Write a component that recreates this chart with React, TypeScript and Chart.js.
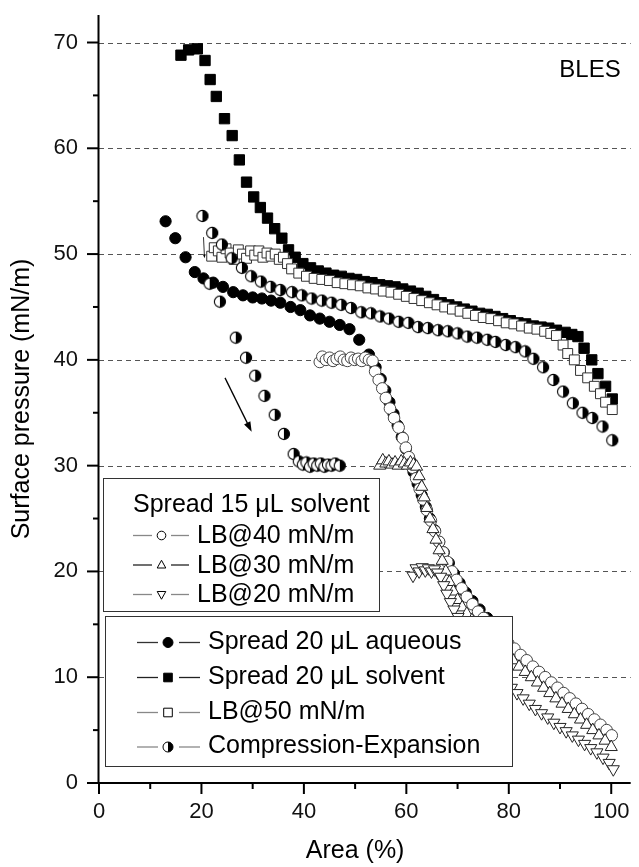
import React, { useEffect, useRef } from "react";
import { Chart, registerables } from "chart.js";

Chart.register(...registerables);

const FONT = "'Liberation Sans', Arial, Helvetica, sans-serif";

// Axis ticks
const xTicks = [0, 20, 40, 60, 80, 100];
const xMinorTicks = [10, 30, 50, 70, 90];
const yTicks = [0, 10, 20, 30, 40, 50, 60, 70];
const yMinorTicks = [5, 15, 25, 35, 45, 55, 65];
const gridValues = [10, 20, 30, 40, 50, 60, 70];

// Spread 20 uL aqueous (filled circles)
const aqueousX = [13.0, 14.9, 16.9, 18.7, 20.4, 22.3, 24.2, 26.2, 28.1, 30.0, 31.8, 33.6, 35.4, 37.4, 39.3, 41.2, 43.1, 45.0, 47.0, 48.9, 50.8, 52.7, 54.0, 55.0, 55.9, 56.7, 57.5, 58.3, 59.1, 59.9, 60.7, 61.4, 62.2, 63.0, 63.8, 64.6, 65.5, 66.4, 67.3, 68.3, 69.3, 70.4, 71.6, 72.9, 74.3, 75.8, 77.3];
const aqueousY = [53.1, 51.5, 49.7, 48.3, 47.7, 47.3, 46.9, 46.4, 46.1, 45.9, 45.8, 45.6, 45.4, 45.0, 44.7, 44.2, 43.9, 43.6, 43.3, 42.9, 41.9, 40.5, 39.3, 38.2, 37.1, 36.0, 34.9, 33.8, 32.7, 31.6, 30.5, 29.4, 28.3, 27.2, 26.1, 25.0, 23.9, 22.8, 21.8, 20.8, 19.8, 18.9, 18.0, 17.2, 16.4, 15.6, 14.9];

// Spread 20 uL solvent (filled squares)
const solventX = [16.0, 17.5, 19.2, 20.7, 21.7, 22.9, 24.5, 26.0, 27.4, 28.8, 30.2, 31.5, 32.9, 34.3, 35.7, 37.0, 38.3, 39.8, 41.3, 42.8, 44.3, 45.8, 47.3, 48.8, 50.3, 51.8, 53.3, 54.8, 56.3, 57.8, 59.3, 60.8, 62.3, 63.8, 65.3, 66.8, 68.3, 69.8, 71.3, 72.8, 74.3, 75.8, 77.3, 78.8, 80.3, 81.8, 83.3, 84.8, 86.3, 87.8, 89.3, 91.0, 92.3, 93.5, 94.7, 96.2, 97.4, 98.9, 100.2];
const solventY = [68.8, 69.3, 69.4, 68.3, 66.5, 64.9, 62.8, 61.2, 58.9, 56.8, 55.4, 54.4, 53.4, 52.4, 51.5, 50.4, 49.7, 49.1, 48.7, 48.4, 48.2, 48.0, 47.9, 47.7, 47.6, 47.4, 47.3, 47.1, 47.0, 46.9, 46.7, 46.5, 46.3, 46.0, 45.7, 45.4, 45.2, 45.0, 44.8, 44.6, 44.4, 44.3, 44.1, 43.9, 43.7, 43.5, 43.4, 43.2, 43.1, 43.0, 42.8, 42.6, 42.4, 42.2, 41.1, 40.0, 38.7, 37.5, 36.3];

// LB@50 mN/m (open squares)
const lb50X = [22.0, 22.5, 23.3, 24.0, 24.8, 25.6, 26.4, 27.2, 28.0, 28.8, 29.6, 30.4, 31.2, 32.0, 32.8, 33.6, 34.4, 35.2, 36.0, 36.8, 37.6, 39.0, 40.5, 42.0, 43.5, 45.0, 46.5, 48.0, 49.5, 51.0, 52.5, 54.0, 55.5, 57.0, 58.5, 60.0, 61.5, 63.0, 64.5, 66.0, 67.5, 69.0, 70.5, 72.0, 73.5, 75.0, 76.5, 78.0, 79.5, 81.0, 82.5, 84.0, 85.5, 87.0, 88.2, 89.3, 90.6, 91.5, 92.8, 94.0, 95.4, 96.7, 97.9, 98.9, 100.2];
const lb50Y = [49.8, 50.6, 50.3, 49.7, 50.5, 50.1, 49.5, 50.4, 50.0, 49.6, 50.3, 49.9, 50.3, 49.7, 50.1, 49.8, 50.0, 49.5, 49.7, 49.1, 48.6, 48.2, 47.9, 47.7, 47.6, 47.5, 47.3, 47.2, 47.1, 47.0, 46.8, 46.7, 46.5, 46.4, 46.2, 46.0, 45.8, 45.6, 45.4, 45.2, 45.0, 44.8, 44.6, 44.4, 44.2, 44.0, 43.9, 43.7, 43.5, 43.4, 43.2, 43.0, 42.9, 42.7, 42.5, 42.3, 41.4, 40.6, 40.0, 39.0, 38.3, 37.5, 36.8, 36.0, 35.3];

// Compression-Expansion (half-filled circles)
const ceX = [20.2, 22.1, 24.0, 25.9, 27.9, 29.7, 31.6, 33.5, 35.4, 37.7, 39.6, 41.5, 43.5, 45.4, 47.3, 49.2, 51.2, 53.1, 54.9, 56.6, 58.5, 60.4, 62.3, 64.2, 66.2, 68.1, 70.0, 71.9, 73.8, 75.8, 77.4, 79.4, 81.3, 83.2, 84.8, 86.7, 88.7, 90.6, 92.5, 94.4, 96.3, 98.3, 100.2, 21.6, 23.6, 26.7, 28.7, 30.5, 32.3, 34.3, 36.1, 38.0, 39.0, 39.8, 40.5, 41.2, 41.9, 42.6, 43.3, 44.0, 44.7, 45.4, 46.1, 47.0];
const ceY = [53.6, 52.0, 50.9, 49.6, 48.7, 47.9, 47.4, 46.9, 46.6, 46.4, 46.1, 45.8, 45.6, 45.4, 45.2, 44.9, 44.5, 44.4, 44.1, 43.9, 43.6, 43.5, 43.1, 43.0, 42.8, 42.7, 42.5, 42.2, 42.1, 41.9, 41.7, 41.4, 41.2, 40.8, 40.1, 39.3, 38.1, 37.0, 35.9, 35.0, 34.5, 33.7, 32.4, 47.2, 45.5, 42.1, 40.2, 38.5, 36.6, 34.8, 33.0, 31.1, 30.4, 30.1, 30.3, 29.9, 30.2, 30.0, 30.2, 29.9, 30.1, 30.0, 30.2, 30.0];

// LB@40 mN/m (open circles)
const lb40X = [43.1, 43.6, 44.3, 45.0, 45.7, 46.4, 47.1, 47.8, 48.5, 49.2, 49.9, 50.6, 51.3, 52.0, 52.7, 53.4, 53.9, 54.6, 55.3, 56.0, 56.8, 57.6, 58.5, 59.3, 59.9, 60.5, 61.2, 61.9, 62.6, 63.3, 64.0, 64.8, 65.6, 66.4, 67.2, 68.0, 68.9, 69.8, 70.8, 71.8, 72.9, 74.0, 75.1, 76.3, 77.5, 78.7, 79.9, 81.1, 82.3, 83.5, 84.7, 85.9, 87.1, 88.3, 89.5, 90.7, 91.9, 93.1, 94.3, 95.5, 96.7, 97.9, 99.1, 100.1];
const lb40Y = [39.8, 40.3, 40.0, 40.2, 39.9, 40.1, 40.3, 40.0, 39.9, 40.2, 40.0, 40.1, 39.9, 40.2, 40.0, 39.9, 38.9, 38.1, 37.3, 36.4, 35.4, 34.5, 33.6, 32.6, 31.7, 30.8, 29.8, 28.8, 27.8, 26.8, 25.8, 24.8, 23.8, 22.8, 21.8, 20.9, 20.0, 19.2, 18.4, 17.6, 16.9, 16.2, 15.6, 15.0, 14.4, 13.8, 13.2, 12.7, 12.1, 11.6, 11.0, 10.5, 10.0, 9.5, 9.0, 8.5, 8.0, 7.5, 7.0, 6.5, 6.0, 5.5, 5.0, 4.5];

// LB@30 mN/m (up triangles)
const lb30X = [54.8, 55.4, 56.0, 56.6, 57.2, 57.8, 58.4, 59.0, 59.6, 60.2, 60.8, 61.4, 62.0, 62.5, 63.0, 63.5, 64.0, 64.6, 65.2, 65.8, 66.4, 67.0, 67.7, 68.4, 69.2, 70.0, 70.9, 71.8, 72.8, 73.8, 74.9, 76.0, 77.2, 78.4, 79.6, 80.8, 82.0, 83.2, 84.4, 85.6, 86.8, 88.0, 89.2, 90.4, 91.6, 92.8, 94.0, 95.2, 96.4, 97.6, 98.8, 100.0];
const lb30Y = [30.0, 30.5, 30.2, 30.4, 30.1, 30.3, 30.0, 30.4, 30.2, 30.0, 30.3, 30.1, 29.9, 29.0, 28.0, 27.0, 26.0, 25.0, 24.0, 23.0, 22.0, 21.0, 20.0, 19.0, 18.1, 17.3, 16.6, 16.0, 15.4, 14.9, 14.4, 13.9, 13.3, 12.7, 12.2, 11.6, 11.0, 10.5, 10.0, 9.5, 9.0, 8.5, 8.0, 7.5, 7.0, 6.5, 6.0, 5.5, 5.0, 4.5, 4.0, 3.4];

// LB@20 mN/m (down triangles)
const lb20X = [61.3, 61.9, 62.5, 63.1, 63.7, 64.3, 64.9, 65.5, 66.1, 66.7, 67.3, 67.9, 68.6, 69.3, 70.1, 70.9, 71.7, 72.6, 73.5, 74.4, 75.3, 76.3, 77.3, 78.3, 79.4, 80.5, 81.6, 82.8, 84.0, 85.2, 86.4, 87.6, 88.8, 90.0, 91.2, 92.4, 93.6, 94.8, 96.0, 97.2, 98.4, 99.6, 100.4];
const lb20Y = [19.6, 20.3, 20.0, 20.4, 20.1, 20.3, 20.0, 20.2, 19.9, 19.5, 18.7, 17.9, 17.1, 16.4, 15.7, 15.0, 14.4, 13.8, 13.2, 12.6, 12.0, 11.4, 10.8, 10.2, 9.6, 9.0, 8.5, 8.0, 7.5, 7.0, 6.6, 6.2, 5.7, 5.3, 4.9, 4.5, 4.1, 3.7, 3.3, 2.9, 2.4, 1.9, 1.3];

// Legends
const legendTopTitle = "Spread 15 \u03bcL solvent";
const legendTopLabels = ["LB@40 mN/m", "LB@30 mN/m", "LB@20 mN/m"];
const legendBottomLabels = ["Spread 20 \u03bcL aqueous", "Spread 20 \u03bcL solvent", "LB@50 mN/m", "Compression-Expansion"];

// Annotation arrows (data coordinates)
const arrowMain = { from: [24.6, 38.3], to: [29.8, 33.2] };
const arrowSmall = { from: [20.4, 51.6], to: [20.6, 49.6] };

const toPts = (xs: number[], ys: number[]) => xs.map((x, i) => ({ x, y: ys[i] }));

type MarkerKind = "circleFilled" | "squareFilled" | "squareOpen" | "half" | "circleOpen" | "triUp" | "triDown";

function drawMarker(ctx: CanvasRenderingContext2D, kind: MarkerKind, cx: number, cy: number, s: number) {
  ctx.save();
  ctx.lineWidth = 1;
  ctx.strokeStyle = "#000";
  ctx.beginPath();
  if (kind === "circleFilled" || kind === "circleOpen" || kind === "half") {
    ctx.arc(cx, cy, s, 0, Math.PI * 2);
    ctx.fillStyle = kind === "circleFilled" ? "#000" : "#fff";
    ctx.fill();
    if (kind === "half") {
      ctx.beginPath();
      ctx.arc(cx, cy, s, -Math.PI / 2, Math.PI / 2);
      ctx.closePath();
      ctx.fillStyle = "#000";
      ctx.fill();
      ctx.beginPath();
      ctx.arc(cx, cy, s, 0, Math.PI * 2);
    }
    ctx.stroke();
  } else if (kind === "squareFilled" || kind === "squareOpen") {
    ctx.rect(cx - s, cy - s, 2 * s, 2 * s);
    ctx.fillStyle = kind === "squareFilled" ? "#000" : "#fff";
    ctx.fill();
    ctx.stroke();
  } else {
    const dir = kind === "triUp" ? 1 : -1;
    ctx.moveTo(cx, cy - dir * s * 1.1);
    ctx.lineTo(cx + s, cy + dir * s * 0.7);
    ctx.lineTo(cx - s, cy + dir * s * 0.7);
    ctx.closePath();
    ctx.fillStyle = "#fff";
    ctx.fill();
    ctx.stroke();
  }
  ctx.restore();
}

function line(ctx: CanvasRenderingContext2D, x1: number, y1: number, x2: number, y2: number) {
  ctx.beginPath();
  ctx.moveTo(x1, y1);
  ctx.lineTo(x2, y2);
  ctx.stroke();
}

const decorPlugin = {
  id: "decor",
  beforeDatasetsDraw(chart: any) {
    const { ctx, chartArea, scales } = chart;
    const y = scales.y;
    ctx.save();
    ctx.strokeStyle = "#555";
    ctx.lineWidth = 1;
    ctx.setLineDash([5, 4]);
    for (const v of gridValues) {
      const py = Math.round(y.getPixelForValue(v)) + 0.5;
      line(ctx, chartArea.left, py, chartArea.right, py);
    }
    ctx.restore();
  },
  afterDatasetsDraw(chart: any) {
    const { ctx, chartArea, scales } = chart;
    const x = scales.x;
    const y = scales.y;
    const L = chartArea.left;
    const B = chartArea.bottom;
    ctx.save();
    // axes
    ctx.strokeStyle = "#000";
    ctx.lineWidth = 2;
    line(ctx, L - 0.5, chartArea.top, L - 0.5, B + 1);
    line(ctx, L - 1, B, chartArea.right, B);
    for (const v of yTicks) {
      const py = y.getPixelForValue(v);
      line(ctx, L - 12, py, L, py);
    }
    for (const v of yMinorTicks) {
      const py = y.getPixelForValue(v);
      line(ctx, L - 6, py, L, py);
    }
    for (const v of xTicks) {
      const px = x.getPixelForValue(v);
      line(ctx, px, B, px, B + 11);
    }
    for (const v of xMinorTicks) {
      const px = x.getPixelForValue(v);
      line(ctx, px, B, px, B + 6);
    }

    // arrows
    const drawArrow = (a: { from: number[]; to: number[] }, head: number, w: number) => {
      const x1 = x.getPixelForValue(a.from[0]);
      const y1 = y.getPixelForValue(a.from[1]);
      const x2 = x.getPixelForValue(a.to[0]);
      const y2 = y.getPixelForValue(a.to[1]);
      const ang = Math.atan2(y2 - y1, x2 - x1);
      ctx.strokeStyle = "#000";
      ctx.lineWidth = w;
      line(ctx, x1, y1, x2 - Math.cos(ang) * head * 0.8, y2 - Math.sin(ang) * head * 0.8);
      ctx.fillStyle = "#000";
      ctx.beginPath();
      ctx.moveTo(x2, y2);
      ctx.lineTo(x2 - head * Math.cos(ang) + head * 0.35 * Math.sin(ang), y2 - head * Math.sin(ang) - head * 0.35 * Math.cos(ang));
      ctx.lineTo(x2 - head * Math.cos(ang) - head * 0.35 * Math.sin(ang), y2 - head * Math.sin(ang) + head * 0.35 * Math.cos(ang));
      ctx.closePath();
      ctx.fill();
    };
    drawArrow(arrowMain, 10, 1.3);
    drawArrow(arrowSmall, 4, 0.8);

    // BLES label
    ctx.fillStyle = "#000";
    ctx.font = `24px ${FONT}`;
    ctx.textAlign = "center";
    ctx.textBaseline = "alphabetic";
    ctx.fillText("BLES", 590, 77);

    // Legend box 1
    ctx.lineWidth = 1;
    ctx.strokeStyle = "#333";
    ctx.fillStyle = "#fff";
    ctx.fillRect(103.5, 478.5, 276, 133);
    ctx.strokeRect(103.5, 478.5, 276, 133);
    ctx.font = `25px ${FONT}`;
    ctx.textAlign = "left";
    ctx.fillStyle = "#000";
    ctx.fillText(legendTopTitle, 133, 512);
    const topKinds: MarkerKind[] = ["circleOpen", "triUp", "triDown"];
    const topLineColors = ["#888", "#222", "#888"];
    const topBase = [543, 572.5, 602];
    legendTopLabels.forEach((lab, i) => {
      const cy = topBase[i] - 7.5;
      ctx.strokeStyle = topLineColors[i];
      ctx.lineWidth = 1.3;
      line(ctx, 133, cy, 152, cy);
      line(ctx, 171, cy, 189, cy);
      drawMarker(ctx, topKinds[i], 161.5, cy, 4.3);
      ctx.fillStyle = "#000";
      ctx.fillText(lab, 197, topBase[i]);
    });

    // Legend box 2
    ctx.lineWidth = 1;
    ctx.strokeStyle = "#333";
    ctx.fillStyle = "#fff";
    ctx.fillRect(105.5, 616.5, 407, 150);
    ctx.strokeRect(105.5, 616.5, 407, 150);
    const botKinds: MarkerKind[] = ["circleFilled", "squareFilled", "squareOpen", "half"];
    const botLineColors = ["#333", "#222", "#888", "#888"];
    const botBase = [648.5, 683.5, 718.5, 753];
    legendBottomLabels.forEach((lab, i) => {
      const cy = botBase[i] - 6;
      ctx.strokeStyle = botLineColors[i];
      ctx.lineWidth = 1.3;
      line(ctx, 137, cy, 158, cy);
      line(ctx, 179, cy, 200, cy);
      drawMarker(ctx, botKinds[i], 168, cy, botKinds[i].startsWith("square") ? 4.3 : 5);
      ctx.fillStyle = "#000";
      ctx.fillText(lab, 208, botBase[i]);
    });

    // Axis titles
    ctx.font = `25px ${FONT}`;
    ctx.textAlign = "center";
    ctx.textBaseline = "middle";
    ctx.fillText("Area (%)", (L + x.getPixelForValue(100)) / 2, 851);
    ctx.save();
    ctx.translate(22, (chartArea.top + B) / 2);
    ctx.rotate(-Math.PI / 2);
    ctx.fillText("Surface pressure (mN/m)", 0, 0);
    ctx.restore();

    ctx.restore();
  },
};

function makeHalfMarker(): HTMLCanvasElement {
  const c = document.createElement("canvas");
  c.width = 14;
  c.height = 14;
  const g = c.getContext("2d")!;
  const r = 5.6;
  g.fillStyle = "#fff";
  g.beginPath();
  g.arc(7, 7, r, 0, Math.PI * 2);
  g.fill();
  g.fillStyle = "#000";
  g.beginPath();
  g.arc(7, 7, r, -Math.PI / 2, Math.PI / 2);
  g.closePath();
  g.fill();
  g.strokeStyle = "#000";
  g.lineWidth = 1.1;
  g.beginPath();
  g.arc(7, 7, r, 0, Math.PI * 2);
  g.stroke();
  return c;
}

export default function App() {
  const ref = useRef<HTMLCanvasElement | null>(null);

  useEffect(() => {
    if (!ref.current) return;
    const half = makeHalfMarker();
    const chart = new Chart(ref.current, {
      type: "scatter",
      data: {
        datasets: [
          {
            label: "LB@20 mN/m",
            data: toPts(lb20X, lb20Y),
            pointStyle: "triangle",
            pointRotation: 180,
            pointRadius: 7,
            backgroundColor: "#fff",
            borderColor: "#222",
            borderWidth: 1,
            order: 0,
          },
          {
            label: "LB@30 mN/m",
            data: toPts(lb30X, lb30Y),
            pointStyle: "triangle",
            pointRadius: 7,
            backgroundColor: "#fff",
            borderColor: "#222",
            borderWidth: 1,
            order: 1,
          },
          {
            label: "LB@40 mN/m",
            data: toPts(lb40X, lb40Y),
            pointStyle: "circle",
            pointRadius: 5.8,
            backgroundColor: "#fff",
            borderColor: "#444",
            borderWidth: 1,
            order: 2,
          },
          {
            label: "Compression-Expansion",
            data: toPts(ceX, ceY),
            pointStyle: half as any,
            pointRadius: 6,
            backgroundColor: "#000",
            borderColor: "#000",
            order: 3,
          },
          {
            label: "LB@50 mN/m",
            data: toPts(lb50X, lb50Y),
            pointStyle: "rect",
            pointRadius: 7,
            backgroundColor: "#fff",
            borderColor: "#333",
            borderWidth: 1,
            order: 4,
          },
          {
            label: "Spread 20 uL solvent",
            data: toPts(solventX, solventY),
            pointStyle: "rect",
            pointRadius: 7.3,
            backgroundColor: "#000",
            borderColor: "#000",
            borderWidth: 1,
            order: 5,
          },
          {
            label: "Spread 20 uL aqueous",
            data: toPts(aqueousX, aqueousY),
            pointStyle: "circle",
            pointRadius: 5.6,
            backgroundColor: "#000",
            borderColor: "#000",
            borderWidth: 1,
            order: 6,
          },
        ],
      },
      options: {
        responsive: false,
        animation: false,
        devicePixelRatio: 1,
        events: [],
        layout: { padding: { top: 15, right: 0, left: 0, bottom: 0 } },
        plugins: {
          legend: { display: false },
          tooltip: { enabled: false },
          title: { display: false },
        },
        scales: {
          x: {
            type: "linear",
            min: 0,
            max: 103.8,
            grid: { display: false, drawTicks: false },
            border: { display: false },
            afterBuildTicks: (s: any) => {
              s.ticks = xTicks.map((v) => ({ value: v }));
            },
            afterFit: (s: any) => {
              s.height = 84;
              s.paddingLeft = 0;
              s.paddingRight = 0;
            },
            ticks: {
              padding: 16,
              color: "#111",
              font: { family: FONT, size: 22 },
              maxRotation: 0,
              autoSkip: false,
            },
          },
          y: {
            type: "linear",
            min: 0,
            max: 72.6,
            grid: { display: false, drawTicks: false },
            border: { display: false },
            afterBuildTicks: (s: any) => {
              s.ticks = yTicks.map((v) => ({ value: v }));
            },
            afterFit: (s: any) => {
              s.width = 99;
              s.paddingTop = 0;
              s.paddingBottom = 0;
            },
            ticks: {
              padding: 21,
              color: "#111",
              font: { family: FONT, size: 22 },
              autoSkip: false,
            },
          },
        },
      },
      plugins: [decorPlugin],
    } as any);
    return () => chart.destroy();
  }, []);

  return (
    <div style={{ position: "absolute", left: 0, top: 0, width: 639, height: 867, background: "#fff" }}>
      <canvas ref={ref} width={639} height={867} style={{ display: "block", width: 639, height: 867 }} />
    </div>
  );
}
